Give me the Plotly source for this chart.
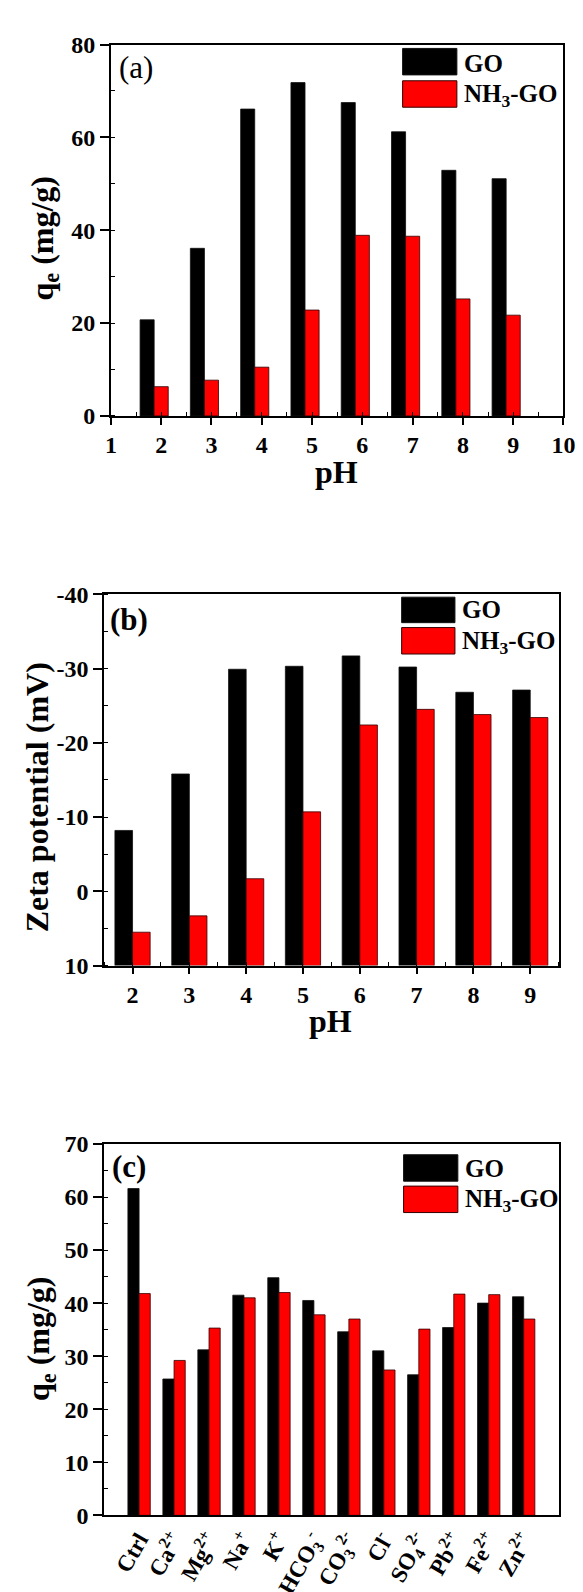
import plotly.graph_objects as go

W, H = 583, 1592

# ---------------- data ----------------
ph_a = [2, 3, 4, 5, 6, 7, 8, 9]
qe_go_a = [20.7, 36.1, 66.1, 71.8, 67.5, 61.2, 52.9, 51.1]
qe_nh_a = [6.3, 7.7, 10.5, 22.8, 38.9, 38.7, 25.2, 21.7]

ph_b = [2, 3, 4, 5, 6, 7, 8, 9]
zeta_go_b = [-8.2, -15.8, -29.9, -30.3, -31.7, -30.2, -26.8, -27.1]
zeta_nh_b = [5.5, 3.3, -1.7, -10.7, -22.4, -24.5, -23.8, -23.4]
zeta_ticks = [-40, -30, -20, -10, 0, 10]
zeta_ticktext = ["-40", "-30", "-20", "-10", "0", "10"]

ions = ["Ctrl", "Ca<sup>2+</sup>", "Mg<sup>2+</sup>", "Na<sup>+</sup>", "K<sup>+</sup>",
        "HCO<sub>3</sub><sup>-</sup>", "CO<sub>3</sub><sup>2-</sup>", "Cl<sup>-</sup>",
        "SO<sub>4</sub><sup>2-</sup>", "Pb<sup>2+</sup>", "Fe<sup>2+</sup>", "Zn<sup>2+</sup>"]
qe_go_c = [61.6, 25.7, 31.2, 41.5, 44.8, 40.5, 34.6, 31.0, 26.5, 35.4, 40.0, 41.2]
qe_nh_c = [41.8, 29.2, 35.3, 41.0, 42.0, 37.8, 37.0, 27.4, 35.1, 41.7, 41.6, 37.0]

series_names = ["GO", "NH<sub>3</sub>-GO"]
colors = ["#000000", "#ff0000"]

# ---------------- helpers ----------------
def px(x):
    return x / W

def py(y):
    return 1 - y / H

FONT = "Liberation Serif"
tickfont = dict(family=FONT, size=24, color="black", weight="bold")

def main_axis(**kw):
    d = dict(showline=True, linewidth=1.5, linecolor="black", mirror=True,
             ticks="outside", ticklen=7, tickwidth=1.5, tickcolor="black",
             showgrid=False, zeroline=False, tickfont=tickfont)
    d.update(kw)
    return d

def overlay_axis(**kw):
    d = dict(showline=False, showgrid=False, zeroline=False, ticks="inside",
             ticklen=4, tickwidth=1.2, tickcolor="black", showticklabels=False)
    d.update(kw)
    return d

minor_in = lambda dt: dict(dtick=dt, ticks="inside", ticklen=4, tickwidth=1.2,
                           tickcolor="black", showgrid=False)

fig = go.Figure()

# panel a
fig.add_trace(go.Bar(x=ph_a, y=qe_go_a, width=0.28, offset=-0.42, name=series_names[0],
                     marker=dict(color=colors[0], line=dict(color="#111", width=0.8)),
                     xaxis="x", yaxis="y", showlegend=False))
fig.add_trace(go.Bar(x=ph_a, y=qe_nh_a, width=0.28, offset=-0.14, name=series_names[1],
                     marker=dict(color=colors[1], line=dict(color="#300", width=0.8)),
                     xaxis="x", yaxis="y", showlegend=False))

# panel b (bars drawn from the bottom of the reversed axis)
base_b = zeta_ticks[-1]
fig.add_trace(go.Bar(x=ph_b, y=[v - base_b for v in zeta_go_b], base=base_b, width=0.31, offset=-0.31,
                     name=series_names[0],
                     marker=dict(color=colors[0], line=dict(color="#111", width=0.8)),
                     xaxis="x2", yaxis="y2", showlegend=False))
fig.add_trace(go.Bar(x=ph_b, y=[v - base_b for v in zeta_nh_b], base=base_b, width=0.31, offset=0,
                     name=series_names[1],
                     marker=dict(color=colors[1], line=dict(color="#300", width=0.8)),
                     xaxis="x2", yaxis="y2", showlegend=False))

# panel c
xc = list(range(1, len(ions) + 1))
fig.add_trace(go.Bar(x=xc, y=qe_go_c, width=0.32, offset=-0.32, name=series_names[0],
                     marker=dict(color=colors[0], line=dict(color="#111", width=0.8)),
                     xaxis="x3", yaxis="y3", showlegend=False))
fig.add_trace(go.Bar(x=xc, y=qe_nh_c, width=0.32, offset=0, name=series_names[1],
                     marker=dict(color=colors[1], line=dict(color="#300", width=0.8)),
                     xaxis="x3", yaxis="y3", showlegend=False))

# domains (pixels)
A = dict(l=100, r=567, t=24, b=403)
B = dict(l=93, r=562, t=585, b=964)
C = dict(l=93, r=562, t=1146, b=1525)

def dom_x(p):
    return [px(p["l"]), px(p["r"])]

def dom_y(p):
    return [py(p["b"]), py(p["t"])]

layout = dict(
    width=W, height=H, margin=dict(l=0, r=0, t=0, b=0),
    paper_bgcolor="white", plot_bgcolor="white", barmode="overlay",
    xaxis=main_axis(domain=dom_x(A), anchor="y", range=[1, 10], tickmode="linear", tick0=1, dtick=1,
                    minor=minor_in(0.5)),
    yaxis=main_axis(domain=dom_y(A), anchor="x", range=[0, 80], tickmode="linear", tick0=0, dtick=20,
                    ticklen=9, minor=minor_in(10)),
    xaxis4=overlay_axis(overlaying="x", side="top", anchor="y", range=[1, 10], tickmode="linear",
                        tick0=1, dtick=0.5),
    yaxis4=overlay_axis(overlaying="y", side="right", anchor="x", range=[0, 80], tickmode="linear",
                        tick0=0, dtick=10),

    xaxis2=main_axis(domain=dom_x(B), anchor="y2", range=[1.5, 9.5], tickmode="array", tickvals=ph_b,
                     minor=minor_in(0.5)),
    yaxis2=main_axis(domain=dom_y(B), anchor="x2", range=[10, -40], tickmode="array",
                     tickvals=zeta_ticks, ticktext=zeta_ticktext, ticklen=9, minor=minor_in(5)),
    xaxis5=overlay_axis(overlaying="x2", side="top", anchor="y2", range=[1.5, 9.5], tickmode="linear",
                        tick0=1.5, dtick=0.5),
    yaxis5=overlay_axis(overlaying="y2", side="right", anchor="x2", range=[10, -40], tickmode="linear",
                        tick0=10, dtick=5),

    xaxis3=main_axis(domain=dom_x(C), anchor="y3", range=[0, len(ions) + 1], tickmode="array",
                     tickvals=xc, ticktext=ions, ticks="", tickangle=-60,
                     tickfont=dict(family=FONT, size=23, color="black", weight="bold")),
    yaxis3=main_axis(domain=dom_y(C), anchor="x3", range=[0, 70], tickmode="linear", tick0=0, dtick=10,
                     ticklen=9, minor=minor_in(5)),
    xaxis6=overlay_axis(overlaying="x3", side="top", anchor="y3", range=[0, len(ions) + 1],
                        tickmode="linear", tick0=0, dtick=0.5),
    yaxis6=overlay_axis(overlaying="y3", side="right", anchor="x3", range=[0, 70], tickmode="linear",
                        tick0=0, dtick=5),
)

shapes = []
annotations = []

def legend(x0, x1, yb0, yb1, yr0, yr1, ygo, ynh):
    shapes.append(dict(type="rect", xref="paper", yref="paper", x0=px(x0), x1=px(x1),
                       y0=py(yb1), y1=py(yb0), fillcolor=colors[0], line=dict(color="#111", width=1)))
    shapes.append(dict(type="rect", xref="paper", yref="paper", x0=px(x0), x1=px(x1),
                       y0=py(yr1), y1=py(yr0), fillcolor=colors[1], line=dict(color="#300", width=1)))
    for txt, yy in zip(series_names, [ygo, ynh]):
        annotations.append(dict(text=txt, xref="paper", yref="paper", x=px(x1 + 5), y=py(yy),
                                xanchor="left", yanchor="middle", showarrow=False,
                                font=dict(family=FONT, size=25, color="black", weight="bold")))

legend(401, 457, 28, 55, 61, 88, 43, 76)
legend(400, 455, 588, 614, 619, 646, 601, 634)
legend(402, 458, 1157, 1184, 1189, 1216, 1171, 1204)

def label(txt, x, y, size=30, weight="normal", angle=0):
    annotations.append(dict(text=txt, xref="paper", yref="paper", x=px(x), y=py(y),
                            xanchor="center", yanchor="middle", showarrow=False, textangle=angle,
                            font=dict(family=FONT, size=size, color="black", weight=weight)))

label("(a)", 126, 47, size=31, weight="normal")
label("(b)", 119, 611, size=31, weight="bold")
label("(c)", 119, 1169, size=31, weight="bold")

label("pH", 333, 460, size=32, weight="bold")
label("pH", 327, 1021, size=32, weight="bold")

label("q<sub>e</sub> (mg/g)", 31, 222, size=32, weight="bold", angle=-90)
label("Zeta potential (mV)", 24, 792, size=32, weight="bold", angle=-90)
label("q<sub>e</sub> (mg/g)", 28, 1345, size=32, weight="bold", angle=-90)

layout["shapes"] = shapes
layout["annotations"] = annotations
fig.update_layout(**layout)

fig.write_html("out.html")
